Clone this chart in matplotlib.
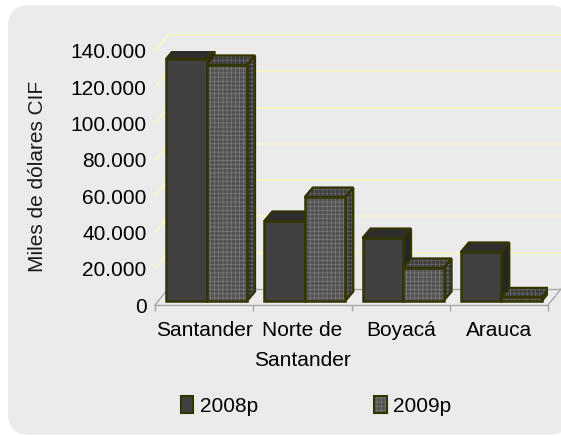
import matplotlib
matplotlib.use('Agg')
import matplotlib.pyplot as plt
from matplotlib.patches import Polygon, Patch, FancyBboxPatch
import numpy as np

# ---------------- data ----------------
categories = ['Santander', 'Norte de\nSantander', 'Boyacá', 'Arauca']
series_names = ['2008p', '2009p']
values_2008 = [133400, 44100, 34700, 27000]
values_2009 = [130100, 57300, 18200, 2000]
y_ticks = [0, 20000, 40000, 60000, 80000, 100000, 120000, 140000]
y_tick_labels = ['0', '20.000', '40.000', '60.000', '80.000', '100.000', '120.000', '140.000']
y_label = 'Miles de dólares CIF'

# ---------------- style ----------------
plt.rcParams['font.family'] = ['Liberation Sans', 'DejaVu Sans']
plt.rcParams['hatch.linewidth'] = 0.5
FS = 15
EDGE = '#333300'
FRONT08, TOP08, SIDE08 = '#404040', '#2e2e2e', '#262626'
FRONT09, TOP09, SIDE09 = '#515151', '#3e3e3e', '#363636'
HATCH09 = '#7c7c7c'
GRID = '#f7f7c2'
FLOOR = '#a8a8a8'

W, H = 561, 436
fig = plt.figure(figsize=(W / 100, H / 100), dpi=100)
fig.patch.set_facecolor('white')
panel = FancyBboxPatch((0.08, 0.01), 5.62, 4.30,
                       boxstyle='round,pad=0,rounding_size=0.22',
                       transform=fig.dpi_scale_trans,
                       facecolor='#ebebeb', edgecolor='none', zorder=0)
fig.add_artist(panel)

ax_l, ax_r, ax_b, ax_t = 155, 548, 305, 51   # pixel positions (y from top)
ax = fig.add_axes([ax_l / W, (H - ax_b) / H, (ax_r - ax_l) / W, (ax_b - ax_t) / H])
ax.patch.set_visible(False)
for s in ax.spines.values():
    s.set_visible(False)
n = len(categories)
ax.set_xlim(-0.5, n - 0.5)
ax.set_ylim(0, 140000)

px_x = n / (ax_r - ax_l)
px_y = 140000 / (ax_b - ax_t)

WDX, WDY = 13 * px_x, 16 * px_y       # wall depth
BSX, BSY = 2.4 * px_x, 4 * px_y       # bar plane shift
BDX, BDY = 8 * px_x, 9.5 * px_y       # bar depth
BW = 40.5 * px_x                      # bar width

xl, xr = -0.5, n - 0.5
# back wall gridlines and left wall diagonals
for v in y_ticks[1:]:
    ax.plot([xl + WDX, xr + WDX + 0.2], [v + WDY, v + WDY], color=GRID, lw=1.2,
            zorder=1, clip_on=False, solid_capstyle='butt')
    ax.plot([xl, xl + WDX], [v, v + WDY], color=GRID, lw=1.2, zorder=1, clip_on=False)
# floor
ax.plot([xl, xr], [0, 0], color=FLOOR, lw=1, zorder=1, clip_on=False)
ax.plot([xl + WDX, xr + WDX], [WDY, WDY], color=FLOOR, lw=1, zorder=1, clip_on=False)
ax.plot([xl, xl + WDX], [0, WDY], color=FLOOR, lw=1, zorder=1, clip_on=False)
ax.plot([xr, xr + WDX], [0, WDY], color=FLOOR, lw=1, zorder=1, clip_on=False)


def faces(x0, h, base):
    top = [(x0, base + h), (x0 + BW, base + h), (x0 + BW + BDX, base + h + BDY), (x0 + BDX, base + h + BDY)]
    side = [(x0 + BW, base), (x0 + BW + BDX, base + BDY), (x0 + BW + BDX, base + h + BDY), (x0 + BW, base + h)]
    return top, side


xc = np.arange(n) + BSX
x08 = xc - BW
x09 = xc

# 2008 series
for i in range(n):
    top, side = faces(x08[i], values_2008[i], BSY)
    ax.add_patch(Polygon(side, closed=True, facecolor=SIDE08, edgecolor=EDGE, lw=1.6, zorder=3, joinstyle='miter'))
    ax.add_patch(Polygon(top, closed=True, facecolor=TOP08, edgecolor=EDGE, lw=1.6, zorder=3, joinstyle='miter'))
ax.bar(x08, values_2008, width=BW, bottom=BSY, align='edge', color=FRONT08,
       edgecolor=EDGE, linewidth=1.8, zorder=3.5)

# 2009 series
for i in range(n):
    top, side = faces(x09[i], values_2009[i], BSY)
    for poly, fc in ((side, SIDE09), (top, TOP09)):
        ax.add_patch(Polygon(poly, closed=True, facecolor=fc, edgecolor='#666666', hatch='++++', lw=0, zorder=4))
        ax.add_patch(Polygon(poly, closed=True, fill=False, edgecolor=EDGE, lw=1.6, zorder=4, joinstyle='miter'))
ax.bar(x09, values_2009, width=BW, bottom=BSY, align='edge', color=FRONT09,
       edgecolor=HATCH09, hatch='++++', linewidth=0, zorder=4.5)
ax.bar(x09, values_2009, width=BW, bottom=BSY, align='edge', fill=False,
       edgecolor=EDGE, linewidth=1.8, zorder=4.6)

# ticks
ax.set_xticks(np.arange(n))
ax.set_xticklabels(categories, fontsize=FS, linespacing=1.75)
ax.set_xticks(np.arange(-0.5, n, 1), minor=True)
ax.tick_params(axis='x', which='major', length=0, pad=11.5)
ax.tick_params(axis='x', which='minor', length=4, color=FLOOR, width=1, direction='out')
ax.set_yticks(y_ticks)
ax.set_yticklabels(y_tick_labels, fontsize=FS)
ax.tick_params(axis='y', length=0, pad=6)

fig.text(38 / W, (H - 176) / H, y_label, rotation=90, fontsize=FS,
         ha='center', va='center', color='#1a1a1a')

# legend
h08 = Patch(facecolor=FRONT08, edgecolor=EDGE, linewidth=1.5)
h09 = (Patch(facecolor=FRONT09, edgecolor=HATCH09, hatch='++++', linewidth=0),
       Patch(fill=False, edgecolor=EDGE, linewidth=1.5))
fig.legend([h08, h09], series_names, loc='center', ncol=2,
           bbox_to_anchor=(316 / W, 30 / H), bbox_transform=fig.transFigure,
           frameon=False, fontsize=FS, handlelength=0.6, handleheight=0.9,
           handletextpad=0.3, columnspacing=5.6)

fig.savefig('out.png', dpi=100, facecolor='white')
